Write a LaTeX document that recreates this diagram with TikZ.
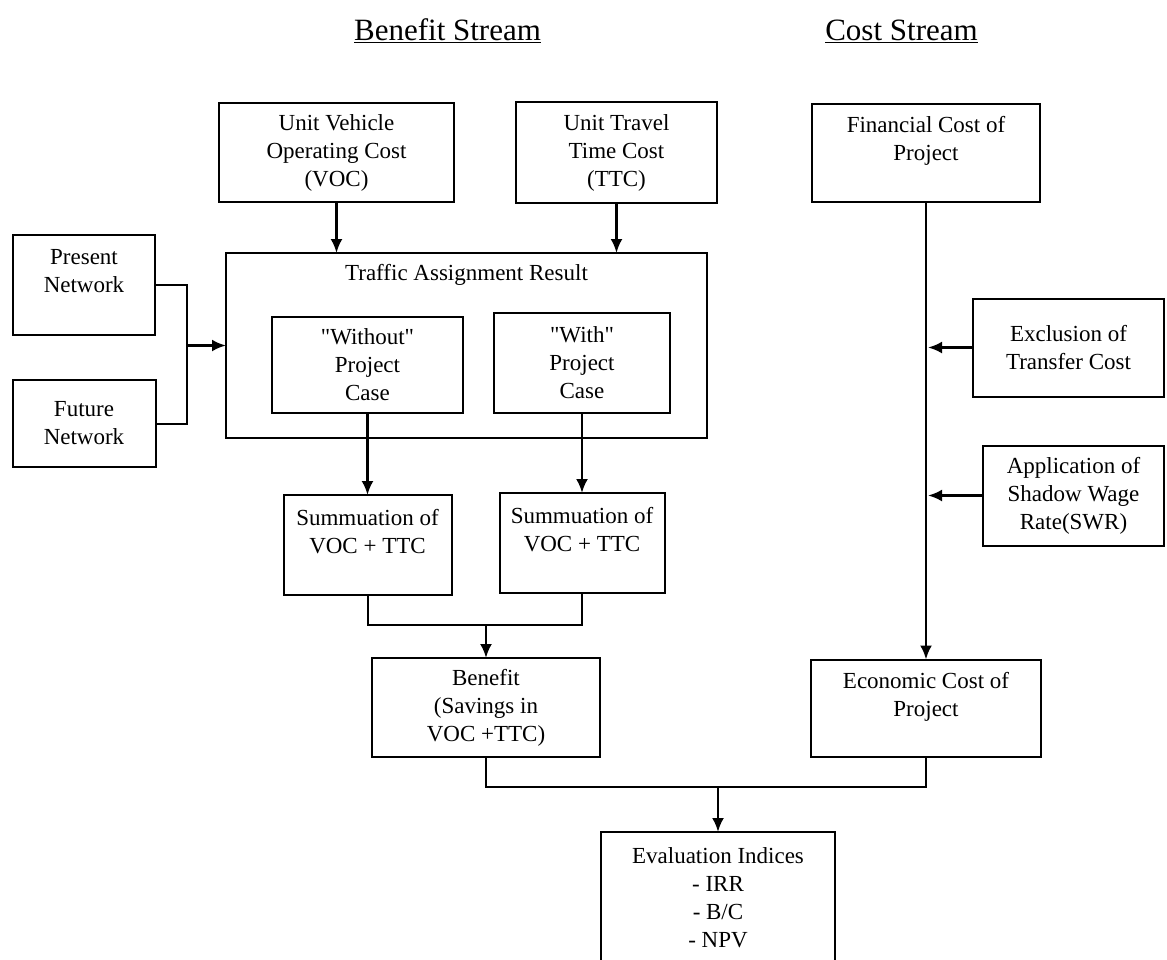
\documentclass[tikz,border=0pt]{standalone}
\usepackage{fontspec}
\setmainfont{Liberation Serif}[Ligatures=TeXOff]
\usetikzlibrary{positioning, arrows.meta}

\begin{document}
\begin{tikzpicture}[
        box/.style={
            rectangle,
            draw,
            line width=2pt,
            align=center,
            inner sep=2pt,
            outer sep=0pt,
            font=\fontsize{23}{28}\selectfont
        },
        arrow/.style={
            -{Latex[length=14pt, width=12pt]},
            line width=2.6pt
        },
        link/.style={
            line width=2pt
        },
        heading/.style={
            anchor=base,
            font=\fontsize{31}{36}\selectfont
        }
    ]

    \useasboundingbox (0pt,0pt) rectangle (1167pt,-959pt);

    % --------------------------------------------------------
    % Headings
    % --------------------------------------------------------

    \node[heading] (benefitTitle) at (447.5pt,-40pt)
        {\underline{Benefit Stream}};

    \node[heading] (costTitle) at (901.5pt,-40pt)
        {\underline{Cost Stream}};

    % --------------------------------------------------------
    % Benefit stream
    % --------------------------------------------------------

    \node[box, minimum width=235pt, minimum height=99pt] (voc)
        at (336.5pt,-152.5pt)
        {Unit Vehicle\\Operating Cost\\(VOC)};

    \node[box, minimum width=201pt, minimum height=101pt, right=62pt of voc] (ttc)
        {Unit Travel\\Time Cost\\(TTC)};

    \node[box, minimum width=481pt, minimum height=185pt] (traffic)
        at (466.5pt,-345.5pt) {};

    \node[below=8pt of traffic.north, font=\fontsize{23}{28}\selectfont] (trafficTitle)
        {Traffic Assignment Result};

    \node[box, minimum width=191pt, minimum height=96pt,
        below right=64pt and 46pt of traffic.north west] (withoutCase)
        {"Without"\\Project\\Case};

    \node[box, minimum width=176pt, minimum height=100pt,
        below left=60pt and 37pt of traffic.north east] (withCase)
        {"With"\\Project\\Case};

    % Networks
    \node[box, minimum width=142pt, minimum height=100pt,
        left=71pt of traffic, yshift=60.5pt] (present)
        {Present\\Network\\\mbox{}};

    \node[box, minimum width=143pt, minimum height=87pt, below=45pt of present] (future)
        {Future\\Network};

    % Summations
    \node[box, minimum width=168pt, minimum height=100pt, below=82pt of withoutCase] (sumWithout)
        {Summuation of\\VOC + TTC\\\mbox{}};

    \node[box, minimum width=165pt, minimum height=100pt, below=80pt of withCase] (sumWith)
        {Summuation of\\VOC + TTC\\\mbox{}};

    \node[box, minimum width=228pt, minimum height=99pt,
        below=63pt of sumWithout, xshift=118.5pt] (benefit)
        {Benefit\\(Savings in\\VOC +TTC)};

    % --------------------------------------------------------
    % Cost stream
    % --------------------------------------------------------

    \node[box, minimum width=228pt, minimum height=98pt, right=95pt of ttc] (finCost)
        {Financial Cost of\\Project\\\mbox{}};

    \node[box, minimum width=191pt, minimum height=98pt,
        below=97pt of finCost, xshift=142.5pt] (exclusion)
        {Exclusion of\\Transfer Cost};

    \node[box, minimum width=181pt, minimum height=100pt,
        below=49pt of exclusion, xshift=5pt] (shadowWage)
        {Application of\\Shadow Wage\\Rate(SWR)};

    \node[box, minimum width=230pt, minimum height=97pt, below=458pt of finCost] (econCost)
        {Economic Cost of\\Project\\\mbox{}};

    % Evaluation
    \node[box, minimum width=234pt, minimum height=132pt,
        below=75pt of benefit, xshift=232pt] (evaluation)
        {Evaluation Indices\\- IRR\\- B/C\\- NPV};

    % --------------------------------------------------------
    % Arrows
    % --------------------------------------------------------

    % Unit costs -> traffic assignment
    \draw[arrow]
        (voc) -- (traffic.north -| voc);

    \draw[arrow]
        (ttc) -- (traffic.north -| ttc);

    % Networks -> traffic assignment
    \coordinate[left=39pt of traffic.west] (netJoin);

    \draw[link]
        (present.east) -| (netJoin) |- (future.east);

    \draw[arrow]
        (netJoin) -- (traffic.west);

    % Cases -> summations
    \draw[arrow]
        (withoutCase) -- (sumWithout);

    \draw[arrow]
        (withCase) -- (sumWith);

    % Summations -> benefit
    \coordinate[above=33pt of benefit.north] (sumJoin);

    \draw[link]
        (sumWithout.south) |- (sumJoin) -| (sumWith.south);

    \draw[arrow]
        (sumJoin) -- (benefit);

    % Financial -> economic cost
    \draw[arrow]
        (finCost) -- (econCost);

    \draw[arrow, shorten >=2pt]
        (exclusion.west) -- (exclusion.west -| finCost.south);

    \draw[arrow, shorten >=2pt]
        (shadowWage.west) -- (shadowWage.west -| finCost.south);

    % Benefit and cost -> evaluation
    \coordinate[above=45pt of evaluation.north] (evalJoin);

    \draw[link]
        (benefit.south) |- (evalJoin) -| (econCost.south);

    \draw[arrow]
        (evalJoin) -- (evaluation);

\end{tikzpicture}
\end{document}
